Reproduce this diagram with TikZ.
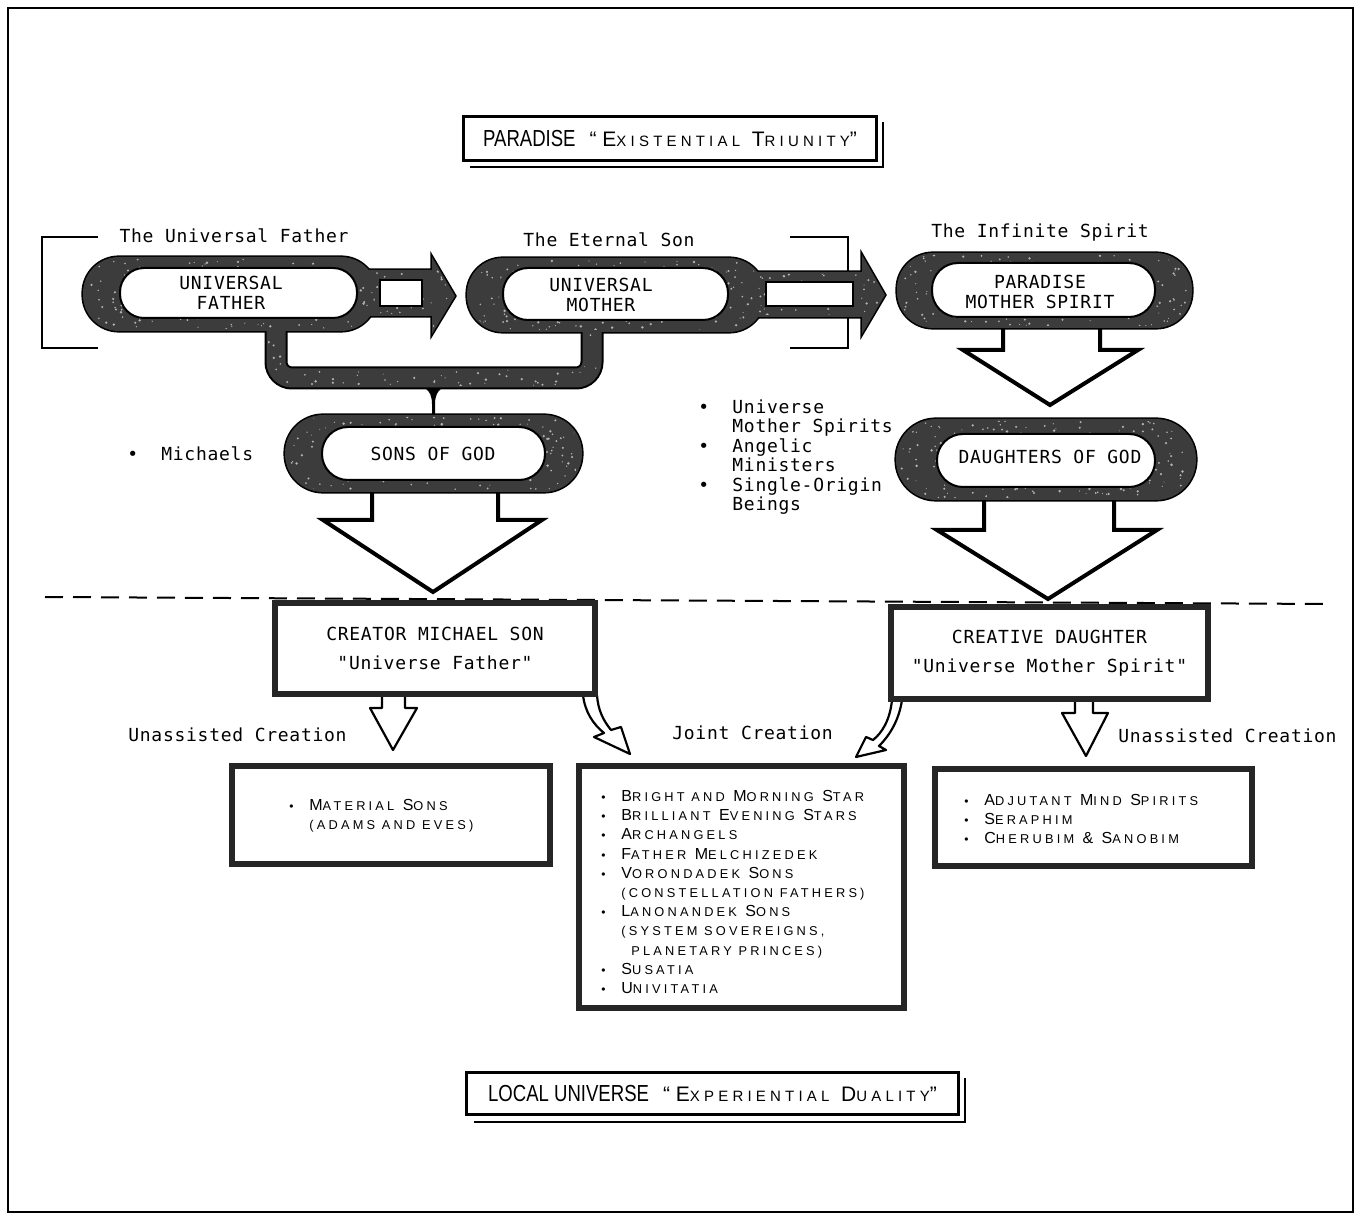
\documentclass[tikz,border=0pt]{standalone}
\usepackage{fontspec}
\setmainfont{Liberation Sans}
\newfontfamily\twfont[LetterSpace=4]{DejaVu Sans Mono}
\newfontfamily\lstfont[LetterSpace=25]{Liberation Sans}
\newfontfamily\ttlfont[FakeStretch=0.8]{Liberation Sans}
\newfontfamily\ttlscfont[LetterSpace=28]{Liberation Sans}
\newcommand\smc[1]{{\fontsize{6.4}{9.6}\selectfont #1}}
\newcommand\tsm[1]{{\fontsize{7.5}{9}\selectfont #1}}
\newcommand\bul{\makebox[10pt][l]{\fontsize{6}{6}\selectfont\textbullet}}
\newcommand\twb{\makebox[17pt][l]{•}}
\definecolor{stip}{HTML}{3C3C3C}
\newcommand\speck[4]{%
  \pgfmathtruncatemacro\nsp{(#3-#1)/110*(#4-#2)}%
  \foreach \i in {1,...,\nsp}{%
    \fill[black!30] ({#1+rnd*(#3-#1)},{#2+rnd*(#4-#2)}) circle[radius={0.5+rnd*0.9}];}}
\begin{document}
\begin{tikzpicture}[x=0.5pt,y=-0.5pt,
  tw/.style={font=\twfont\fontsize{9}{9.7}\selectfont, inner sep=0pt},
  lsty/.style={font=\lstfont\fontsize{8}{9.6}\selectfont, inner sep=0pt, align=left},
  hollow/.style={fill=white, draw=black, line width=2pt, line join=miter},
  hollowthin/.style={fill=white, draw=black, line width=1.1pt, line join=round},
  boxst/.style={draw=black!85, line width=3pt, fill=white, inner sep=0pt},
  tbox/.style={draw=black, line width=1.5pt, fill=white, inner sep=0pt},
  boxtxt/.style={font=\twfont\fontsize{9}{14.5}\selectfont, align=center},
  brk/.style={line width=1.3pt},
]
\pgfmathsetseed{7}
\useasboundingbox (0,0) rectangle (1362,1219);
\fill[white] (0,0) rectangle (1362,1219);
\draw[line width=1.1pt] (8,8) rectangle (1353,1212);

% title boxes
\draw[line width=0.8pt] (470,167) -- (883,167) -- (883,122);
\node[tbox, minimum width=206.5pt, minimum height=22pt] (para) at (670,138.5)
  {{\ttlfont\fontsize{11.6}{12}\selectfont PARADISE}\hspace{7pt}{\ttlscfont\fontsize{10.5}{12}\selectfont “E\tsm{XISTENTIAL} T\tsm{RIUNITY}”}};
\draw[line width=0.8pt] (474,1122) -- (965,1122) -- (965,1078);
\node[tbox, minimum width=246pt, minimum height=21pt] (local) at (712.5,1093.5)
  {{\ttlfont\fontsize{11.6}{12}\selectfont LOCAL UNIVERSE}\hspace{7pt}{\ttlscfont\fontsize{10.5}{12}\selectfont “E\tsm{XPERIENTIAL} D\tsm{UALITY}”}};

% dashed divider
\draw[line width=1pt, dash pattern=on 9pt off 5pt] (45,597) -- (1327,604);

% brackets
\draw[brk] (98,237) -- (42,237) -- (42,348) -- (98,348);
\draw[brk] (790,237) -- (848,237) -- (848,348) -- (790,348);

% hollow down arrows
\draw[hollow] (372,480)--(372,520)--(323,520)--(433,592)--(542,520)--(498,520)--(498,480);
\draw[hollow] (1003,318)--(1003,350)--(963,350)--(1050,405)--(1138,350)--(1100,350)--(1100,318);
\draw[hollow] (984,495)--(984,530)--(937,530)--(1048,599)--(1157,530)--(1114,530)--(1114,495);

% layer A: black silhouettes
\begin{scope}[line width=1.6pt, draw=black, fill=black]
 \filldraw[rounded corners=18pt] (83,257) rectangle (377,331);
 \filldraw[rounded corners=18pt] (467,258) rectangle (765,332);
 \filldraw[rounded corners=18pt] (897,253) rectangle (1192,328);
 \filldraw[rounded corners=19pt] (285,415) rectangle (582,492);
 \filldraw[rounded corners=20pt] (896,419) rectangle (1196,500);
 \filldraw (368,270)--(432,270)--(432,257)--(455,296)--(432,334)--(432,316)--(368,316)--cycle;
 \filldraw (755,272)--(862,272)--(862,255)--(885,295)--(862,334)--(862,317)--(755,317)--cycle;
 \draw[line width=11.5pt, rounded corners=8pt] (276,325) -- (276,378) -- (592,378) -- (592,325);
\end{scope}
% stem
\fill[black] (421,386) .. controls (431,390) and (432,398) .. (432,404) -- (432,418) -- (435,418) -- (435,404) .. controls (435,398) and (436,390) .. (446,386) -- cycle;
% layer B: stippled fill
\begin{scope}[fill=stip]
 \fill[rounded corners=18pt] (83,257) rectangle (377,331);
 \fill[rounded corners=18pt] (467,258) rectangle (765,332);
 \fill[rounded corners=18pt] (897,253) rectangle (1192,328);
 \fill[rounded corners=19pt] (285,415) rectangle (582,492);
 \fill[rounded corners=20pt] (896,419) rectangle (1196,500);
 \fill (368,270)--(432,270)--(432,257)--(455,296)--(432,334)--(432,316)--(368,316)--cycle;
 \fill (755,272)--(862,272)--(862,255)--(885,295)--(862,334)--(862,317)--(755,317)--cycle;
 \draw[stip, line width=9.5pt, rounded corners=8pt] (276,325) -- (276,378) -- (592,378) -- (592,325);
\end{scope}
% speckles
\begin{scope}\clip[rounded corners=17pt] (85,259) rectangle (375,329); \speck{85}{259}{375}{329}\end{scope}
\begin{scope}\clip[rounded corners=17pt] (469,260) rectangle (763,330); \speck{469}{260}{763}{330}\end{scope}
\begin{scope}\clip[rounded corners=17pt] (899,255) rectangle (1190,326); \speck{899}{255}{1190}{326}\end{scope}
\begin{scope}\clip[rounded corners=18pt] (287,417) rectangle (580,490); \speck{287}{417}{580}{490}\end{scope}
\begin{scope}\clip[rounded corners=19pt] (898,421) rectangle (1194,498); \speck{898}{421}{1194}{498}\end{scope}
\begin{scope}\clip (370,272)--(433,272)--(433,261)--(452,296)--(433,330)--(433,314)--(370,314)--cycle; \speck{370}{257}{455}{334}\end{scope}
\begin{scope}\clip (757,274)--(863,274)--(863,259)--(882,295)--(863,330)--(863,315)--(757,315)--cycle; \speck{757}{255}{885}{334}\end{scope}
\begin{scope}\clip (268,330) rectangle (285,372) (285,370) rectangle (583,386) (584,330) rectangle (600,372); \speck{268}{330}{600}{386}\end{scope}
% layer C: white interiors
\begin{scope}[fill=white, draw=black, line width=1pt]
 \filldraw[rounded corners=12pt] (120,268) rectangle (357,318);
 \filldraw[rounded corners=12.5pt] (503,268) rectangle (728,320);
 \filldraw[rounded corners=13pt] (932,263) rectangle (1155,317);
 \filldraw[rounded corners=13pt] (322,427) rectangle (545,480);
 \filldraw[rounded corners=13pt] (937,434) rectangle (1155,487);
 \filldraw (380,280) rectangle (422,306);
 \filldraw (766,282) rectangle (853,306);
\end{scope}

% upper texts
\node[tw] (tuf) at (234,236) {The Universal Father};
\node[tw] (tes) at (609,240) {The Eternal Son};
\node[tw] (tis) at (1040,233) {The Infinite Spirit};
\node[tw, align=center] (uf) at (231,293) {UNIVERSAL\\FATHER};
\node[tw, align=center] (um) at (601,295) {UNIVERSAL\\MOTHER};
\node[tw, align=center] (pms) at (1040,292) {PARADISE\\MOTHER SPIRIT};
\node[tw] (sog) at (433,454) {SONS OF GOD};
\node[tw] (dog) at (1050,457) {DAUGHTERS OF GOD};
\node[tw, anchor=west] (mich) at (127,454) {\twb Michaels};
\node[tw, anchor=west, align=left] (ums) at (698,457)
  {\twb Universe\\\hspace*{17pt}Mother Spirits\\\twb Angelic\\\hspace*{17pt}Ministers\\\twb Single-Origin\\\hspace*{17pt}Beings};

% small arrows
\draw[hollowthin] (382,692)--(382,708)--(370,708)--(393,750)--(417,708)--(405,708)--(405,692);
\draw[hollowthin] (1075,698)--(1075,713)--(1062,713)--(1086,756)--(1108,713)--(1093,713)--(1093,698);
\draw[hollowthin] (583,695) .. controls (585,712) and (593,724) .. (604,733) -- (594,737) -- (630,754) -- (621,727) -- (611,730) .. controls (603,720) and (598,710) .. (597,695);
\draw[hollowthin] (892,700) .. controls (890,720) and (882,733) .. (873,740) -- (866,737) -- (856,757) -- (886,750) -- (879,746) .. controls (890,735) and (899,720) .. (902,700);

% lower boxes
\node[boxst, boxtxt, minimum width=160pt, minimum height=45.5pt] (cms) at (435,648.5) {CREATOR MICHAEL SON\\"Universe Father"};
\node[boxst, boxtxt, minimum width=158.5pt, minimum height=46pt] (cd) at (1049.5,653) {CREATIVE DAUGHTER\\"Universe Mother Spirit"};
\node[boxst, minimum width=159pt, minimum height=49pt] (ms) at (391,815) {};
\node[boxst, minimum width=162.5pt, minimum height=121pt] (jb) at (741.5,887) {};
\node[boxst, minimum width=158.5pt, minimum height=48.5pt] (ad) at (1093.5,817.5) {};

\node[lsty, anchor=west] (mst) at (289,816)
  {\bul M\smc{ATERIAL} S\smc{ONS}\\\hspace*{10pt}\smc{(ADAMS AND EVES)}};
\node[lsty, anchor=west] (jbt) at (601,892)
  {\bul B\smc{RIGHT AND} M\smc{ORNING} S\smc{TAR}\\
   \bul B\smc{RILLIANT} E\smc{VENING} S\smc{TARS}\\
   \bul A\smc{RCHANGELS}\\
   \bul F\smc{ATHER} M\smc{ELCHIZEDEK}\\
   \bul V\smc{ORONDADEK} S\smc{ONS}\\
   \hspace*{10pt}\smc{(CONSTELLATION FATHERS)}\\
   \bul L\smc{ANONANDEK} S\smc{ONS}\\
   \hspace*{10pt}\smc{(SYSTEM SOVEREIGNS,}\\
   \hspace*{15pt}\smc{PLANETARY PRINCES)}\\
   \bul S\smc{USATIA}\\
   \bul U\smc{NIVITATIA}};
\node[lsty, anchor=west] (adt) at (964,819)
  {\bul A\smc{DJUTANT} M\smc{IND} S\smc{PIRITS}\\
   \bul S\smc{ERAPHIM}\\
   \bul C\smc{HERUBIM} \& S\smc{ANOBIM}};

% creation labels
\node[tw, anchor=west] (ucl) at (128,735) {Unassisted Creation};
\node[tw, anchor=west] (jc) at (672,733) {Joint Creation};
\node[tw, anchor=west] (ucr) at (1118,736) {Unassisted Creation};
\end{tikzpicture}
\end{document}
